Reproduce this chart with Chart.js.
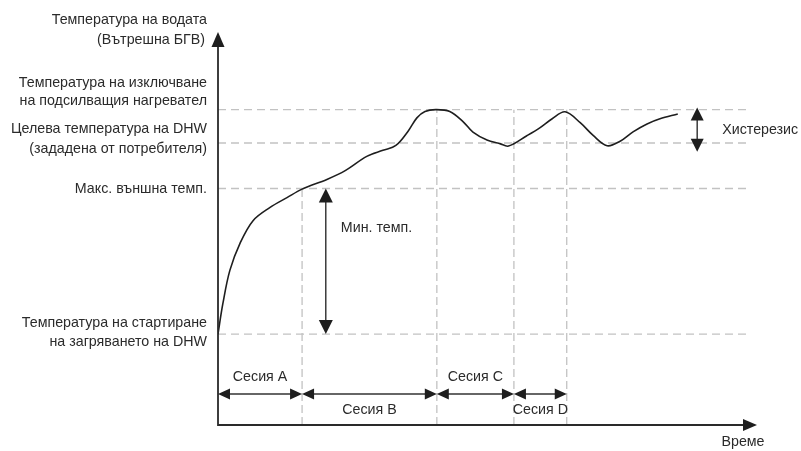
<!DOCTYPE html>
<html>
<head>
<meta charset="utf-8">
<script src="https://cdn.jsdelivr.net/npm/chart.js@4.4.1/dist/chart.umd.min.js"></script>
<style>
html,body{margin:0;padding:0;background:#fff;}
#wrap{width:801px;height:451px;}
</style>
</head>
<body>
<div id="wrap"><canvas id="c" width="801" height="451"></canvas></div>
<script>
// ---- data (time units on x, temperature units on y) ----
const levelNames = ["start", "maxOutside", "target", "cutoff"];
const levelValues = [30, 78, 93, 104];
const levelLabels = [
  ["Температура на стартиране", "на загряването на DHW"],
  ["Макс. външна темп."],
  ["Целева температура на DHW", "(зададена от потребителя)"],
  ["Температура на изключване", "на подсилващия нагревател"]
];
const sessionBounds = [0, 15.6, 40.6, 54.9, 64.7];
const sessionLabels = ["Сесия A", "Сесия B", "Сесия C", "Сесия D"];
const curveTime = [0, 0.9, 2.2, 4.1, 6.5, 9.6, 12.8, 15.6, 20.2, 23.6, 27.6, 30.6, 33.0, 35.3, 36.9, 38.4, 40.4, 43.0, 45.5, 47.3, 49.9, 52.3, 53.9, 57.3, 59.7, 62.0, 64.4, 67.2, 69.6, 72.2, 74.6, 77.0, 79.6, 82.0, 85.3];
const curveTemp = [30, 40, 51, 60, 67.4, 71.7, 75, 77.8, 81.0, 83.9, 88.6, 90.6, 92.2, 97, 101.3, 103.4, 104, 103.4, 100, 96.6, 94.0, 92.8, 92.0, 95.4, 98, 101, 103.3, 99.7, 95.5, 92.1, 93.6, 96.7, 99.3, 101, 102.6];
const yAxisTitle = ["Температура на водата", "(Вътрешна БГВ)"];
const xAxisTitle = "Време";
const minTempLabel = "Мин. темп.";
const minTempTime = 20.0;
const hysteresisLabel = "Хистерезис";
const hysteresisTime = 88.9;
const hysteresisRange = [90.1, 104.7];
const refLineEnd = 98;
const sessionArrowTemp = 10.2;
const xMax = 100, yMax = 125;

const FONT = '"Liberation Sans", Arial, sans-serif';
const TEXT = '#2b2b2b';
const DASH = '#c2c2c2';

const datasets = [];
datasets.push({
  label: 'curve',
  data: curveTime.map((t, i) => ({x: t, y: curveTemp[i]})),
  borderColor: '#1e1e1e', borderWidth: 1.6, pointRadius: 0,
  tension: 0.35,
  fill: false, order: 0
});
levelValues.forEach((v) => {
  datasets.push({
    data: [{x: 0, y: v}, {x: refLineEnd, y: v}],
    borderColor: DASH, borderWidth: 1.3, borderDash: [8, 5], pointRadius: 0, order: 2
  });
});
// vertical boundaries: from the level they start at down to the time axis
const vTops = [levelValues[1], levelValues[3], levelValues[3], levelValues[3]];
sessionBounds.slice(1).forEach((b, i) => {
  datasets.push({
    data: [{x: b, y: 0}, {x: b, y: vTops[i]}],
    borderColor: DASH, borderWidth: 1.3, borderDash: [8, 4], pointRadius: 0, order: 2
  });
});

function head(ctx, x, y, dx, dy, len, hw) {
  const px = -dy, py = dx;
  ctx.beginPath();
  ctx.moveTo(x, y);
  ctx.lineTo(x - dx * len + px * hw, y - dy * len + py * hw);
  ctx.lineTo(x - dx * len - px * hw, y - dy * len - py * hw);
  ctx.closePath();
  ctx.fill();
}
function txt(ctx, s, x, y) {
  ctx.save();
  ctx.translate(x, y);
  ctx.scale(0.95, 1);
  ctx.fillText(s, 0, 0);
  ctx.restore();
}

const deco = {
  id: 'deco',
  afterDatasetsDraw(chart) {
    const ctx = chart.ctx, xs = chart.scales.x, ys = chart.scales.y, a = chart.chartArea;
    ctx.save();
    ctx.fillStyle = '#1e1e1e';
    ctx.strokeStyle = '#2a2a2a';
    // axes
    ctx.lineWidth = 1.8;
    ctx.beginPath();
    ctx.moveTo(a.left, a.top - 1);
    ctx.lineTo(a.left, a.bottom);
    ctx.lineTo(a.right - 12, a.bottom);
    ctx.stroke();
    head(ctx, a.left, a.top - 14, 0, -1, 15, 6.5);
    head(ctx, a.right, a.bottom, 1, 0, 14, 6);

    ctx.strokeStyle = '#1e1e1e';
    // min temp arrow
    const mx = xs.getPixelForValue(minTempTime);
    const m1 = ys.getPixelForValue(levelValues[1]), m0 = ys.getPixelForValue(levelValues[0]);
    ctx.lineWidth = 1.3;
    ctx.beginPath(); ctx.moveTo(mx, m1 + 10); ctx.lineTo(mx, m0 - 10); ctx.stroke();
    head(ctx, mx, m1, 0, -1, 14, 7);
    head(ctx, mx, m0, 0, 1, 14, 7);

    // hysteresis arrow
    const hx = xs.getPixelForValue(hysteresisTime);
    const h1 = ys.getPixelForValue(hysteresisRange[1]), h0 = ys.getPixelForValue(hysteresisRange[0]);
    ctx.beginPath(); ctx.moveTo(hx, h1 + 10); ctx.lineTo(hx, h0 - 10); ctx.stroke();
    head(ctx, hx, h1, 0, -1, 13, 6.5);
    head(ctx, hx, h0, 0, 1, 13, 6.5);

    // session arrows
    const sy = ys.getPixelForValue(sessionArrowTemp);
    ctx.lineWidth = 1.6;
    ctx.strokeStyle = '#333';
    for (let i = 0; i < sessionLabels.length; i++) {
      const x0 = xs.getPixelForValue(sessionBounds[i]), x1 = xs.getPixelForValue(sessionBounds[i + 1]);
      ctx.beginPath(); ctx.moveTo(x0 + 8, sy); ctx.lineTo(x1 - 8, sy); ctx.stroke();
      head(ctx, x0, sy, -1, 0, 12, 5.5);
      head(ctx, x1, sy, 1, 0, 12, 5.5);
    }

    // texts
    ctx.fillStyle = TEXT;
    ctx.font = '15px ' + FONT;
    ctx.textBaseline = 'middle';
    ctx.textAlign = 'center';
    for (let i = 0; i < sessionLabels.length; i++) {
      const x0 = xs.getPixelForValue(sessionBounds[i]), x1 = xs.getPixelForValue(sessionBounds[i + 1]);
      const off = i % 2 === 0 ? -17 : 16;
      txt(ctx, sessionLabels[i], (x0 + x1) / 2, sy + off);
    }
    ctx.textAlign = 'right';
    const lx = a.left - 11;
    txt(ctx, yAxisTitle[0], lx, a.top - 26);
    txt(ctx, yAxisTitle[1], lx - 2, a.top - 6);
    const offs = [[-11, 8], [0], [-14, 6], [-27, -9]];
    levelLabels.forEach((lines, i) => {
      const y = ys.getPixelForValue(levelValues[i]);
      lines.forEach((t, j) => txt(ctx, t, lx, y + offs[i][j]));
    });
    ctx.textAlign = 'left';
    txt(ctx, minTempLabel, mx + 15, (m0 + m1) / 2 - 33);
    txt(ctx, hysteresisLabel, hx + 25, (h0 + h1) / 2);
    ctx.textAlign = 'center';
    txt(ctx, xAxisTitle, a.right - 14, a.bottom + 17);
    ctx.restore();
  }
};

new Chart(document.getElementById('c'), {
  type: 'line',
  data: {datasets},
  options: {
    responsive: false,
    animation: false,
    events: [],
    layout: {padding: {left: 218, right: 44, top: 46, bottom: 26}},
    plugins: {legend: {display: false}, tooltip: {enabled: false}, title: {display: false}},
    scales: {
      x: {type: 'linear', min: 0, max: xMax, display: false},
      y: {type: 'linear', min: 0, max: yMax, display: false}
    }
  },
  plugins: [deco]
});
</script>
</body>
</html>
